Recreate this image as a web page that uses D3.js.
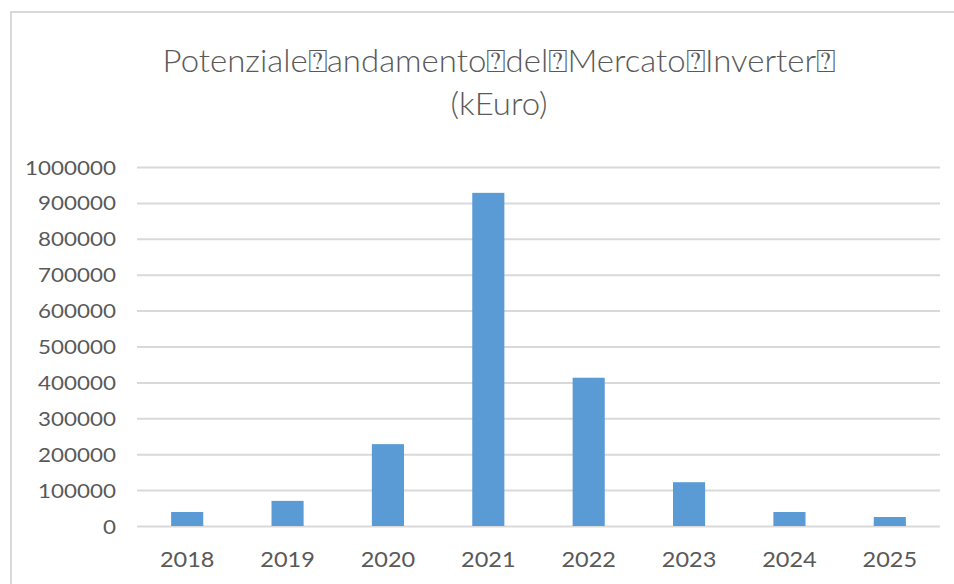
<!DOCTYPE html>
<html>
<head>
<meta charset="utf-8">
<script src="https://cdn.jsdelivr.net/npm/d3@7"></script>
<style>
  body { margin: 0; background: #fff; }
  text { font-family: Lato, "DejaVu Sans", sans-serif; fill: #595959; }
</style>
</head>
<body>
<div id="chart"></div>
<script>
// data
const years = ['2018', '2019', '2020', '2021', '2022', '2023', '2024', '2025'];
const values = [39000, 70000, 228000, 928000, 413000, 122000, 39000, 25000];
const yTicks = [0, 100000, 200000, 300000, 400000, 500000, 600000, 700000, 800000, 900000, 1000000];
const titleLines = ['Potenziale\u2370andamento\u2370del\u2370Mercato\u2370Inverter\u2370', '(kEuro)'];

const dims = {
    width: 954,
    height: 584,
    marginTop: 167,
    marginBottom: 58,
    marginLeft: 137,
    marginRight: 14,
};

// text in the picture is stretched sideways
const sx = 1.12;

const svg = d3
    .select('#chart')
    .append('svg')
    .attr('width', dims.width)
    .attr('height', dims.height);

/* chart border */
svg.append('rect')
    .attr('x', 11)
    .attr('y', 12)
    .attr('width', 960)
    .attr('height', 600)
    .attr('fill', 'none')
    .attr('stroke', '#d9d9d9')
    .attr('stroke-width', 2);

const xScale = d3
    .scaleBand()
    .domain(years)
    .range([dims.marginLeft, dims.width - dims.marginRight])
    .paddingInner(0.68)
    .paddingOuter(0.34);

const yScale = d3
    .scaleLinear()
    .domain([0, 1000000])
    .range([dims.height - dims.marginBottom, dims.marginTop]);

/* gridlines + y labels */
const yAxis = d3
    .axisLeft(yScale)
    .tickValues(yTicks)
    .tickSize(-(dims.width - dims.marginRight - dims.marginLeft))
    .tickPadding(0)
    .tickFormat(d => d);

const gY = svg
    .append('g')
    .attr('transform', `translate(${dims.marginLeft}, 0)`)
    .call(yAxis);

gY.select('.domain').remove();
gY.selectAll('.tick line')
    .attr('stroke', '#d9d9d9')
    .attr('stroke-width', 2);
gY.selectAll('.tick text')
    .attr('x', -21 / sx)
    .attr('transform', `scale(${sx},1)`)
    .attr('dy', '0.35em')
    .style('font-size', '20px')
    .attr('fill', '#595959');

/* bars */
svg.append('g')
    .selectAll('rect')
    .data(values)
    .join('rect')
    .attr('x', (d, i) => xScale(years[i]))
    .attr('y', d => yScale(d))
    .attr('width', xScale.bandwidth())
    .attr('height', d => yScale(0) - yScale(d))
    .attr('fill', '#5b9bd5');

/* x labels */
const xAxis = d3.axisBottom(xScale).tickSize(0).tickPadding(0);

const gX = svg
    .append('g')
    .attr('transform', `translate(0, ${dims.height - dims.marginBottom})`)
    .call(xAxis);

gX.select('.domain').remove();
gX.selectAll('.tick text')
    .attr('y', 41)
    .attr('dy', 0)
    .attr('transform', `scale(${sx},1)`)
    .style('font-size', '21px')
    .attr('fill', '#595959');

/* title */
const title = svg
    .append('text')
    .attr('text-anchor', 'middle')
    .attr('transform', 'translate(499, 0) scale(1.03,1)')
    .style('font-size', '32px')
    .style('font-weight', 300);

title.selectAll('tspan')
    .data(titleLines)
    .join('tspan')
    .attr('x', 0)
    .attr('y', (d, i) => 72 + i * 43)
    .text(d => d);
</script>
</body>
</html>
